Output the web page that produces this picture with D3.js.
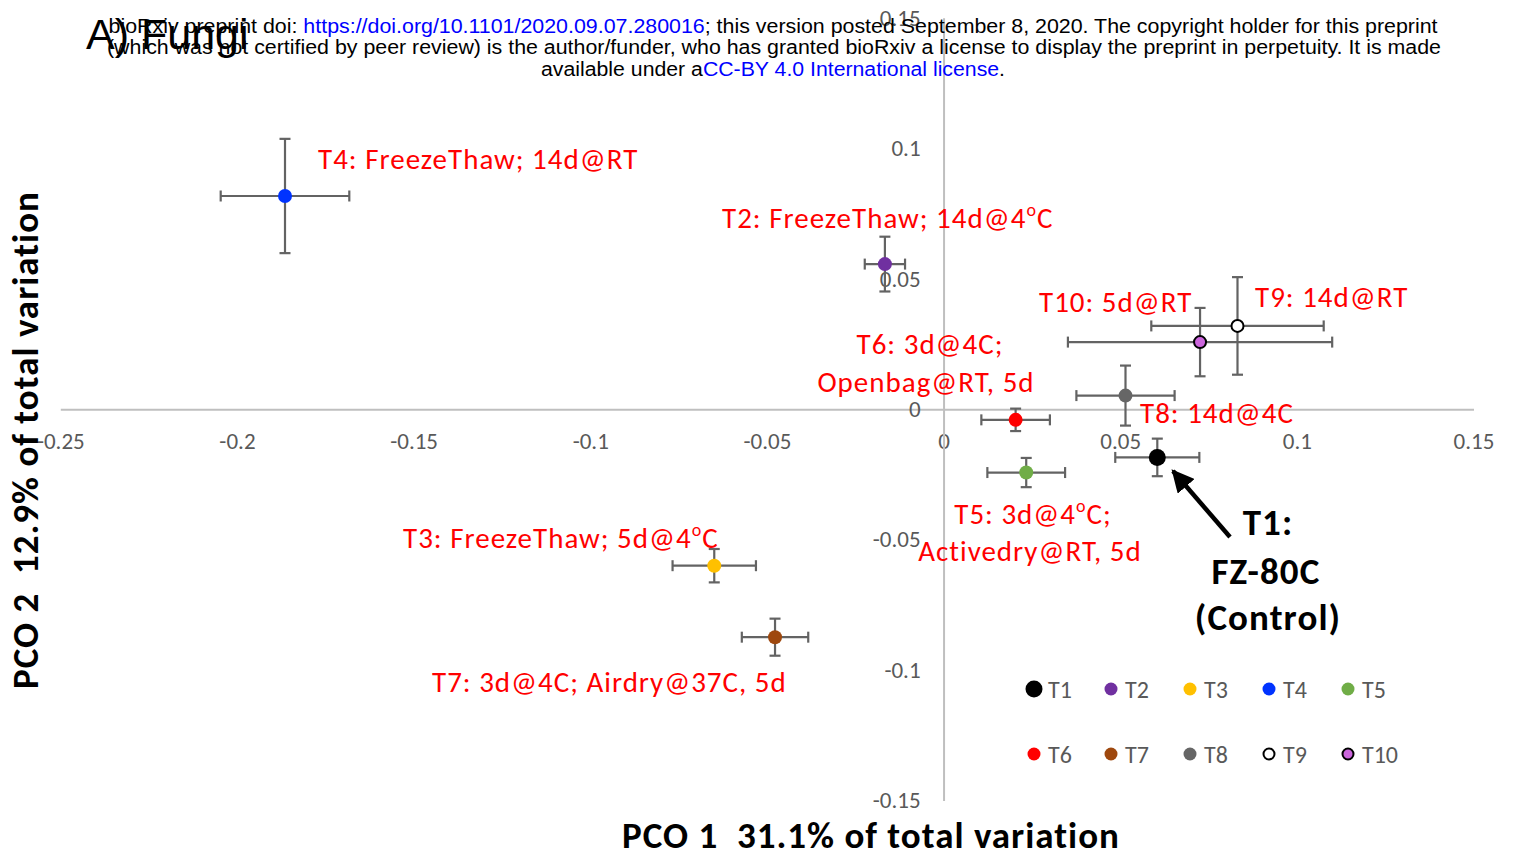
<!DOCTYPE html>
<html>
<head>
<meta charset="utf-8">
<script src="https://cdn.jsdelivr.net/npm/d3@7"></script>
<style>
  html, body { margin: 0; padding: 0; background: #fff; }
  svg { display: block; }
</style>
</head>
<body>
<svg id="chart" width="1514" height="856"></svg>
<script>
// ---- data ----
const groups = ["T1", "T2", "T3", "T4", "T5", "T6", "T7", "T8", "T9", "T10"];
const pco1 = [0.0605, -0.0166, -0.0649, -0.1864, 0.0234, 0.0204, -0.0477, 0.0515, 0.0832, 0.0726];
const pco2 = [-0.0185, 0.0556, -0.0600, 0.0817, -0.0243, -0.0041, -0.0874, 0.0052, 0.0319, 0.0257];
const pco1Err = [0.0119, 0.0057, 0.0118, 0.0182, 0.0110, 0.0097, 0.0094, 0.0139, 0.0244, 0.0374];
const pco2Err = [0.0072, 0.0105, 0.0064, 0.0219, 0.0056, 0.0043, 0.0071, 0.0115, 0.0187, 0.0131];
const fillColors = ["#000000", "#7030a0", "#ffc000", "#0033ff", "#70ad47", "#ff0000", "#9e480e", "#666666", "#ffffff", "#cc66dd"];
const xTicks = [-0.25, -0.2, -0.15, -0.1, -0.05, 0, 0.05, 0.1, 0.15];
const yTicks = [-0.15, -0.1, -0.05, 0, 0.05, 0.1, 0.15];
const tickLabel = d => String(+d.toFixed(2));

const calibri = "Carlito, Lato, 'Open Sans', sans-serif";
const arial = "'Liberation Sans', Arial, sans-serif";

const svg = d3.select("#chart");
const x = d3.scaleLinear().domain([-0.25, 0.15]).range([60.3, 1473.5]);
const y = d3.scaleLinear().domain([-0.15, 0.15]).range([800.5, 17.8]);

// ---- axes (crossing at zero) ----
const xAxis = d3.axisBottom(x).tickValues(xTicks).tickSize(0).tickFormat(tickLabel);
const gx = svg.append("g").attr("transform", `translate(0,${y(0)})`).call(xAxis);
gx.select(".domain").attr("stroke", "#bfbfbf").attr("stroke-width", 2);
gx.selectAll(".tick text").attr("fill", "#595959").attr("font-family", calibri)
  .attr("font-size", 23).attr("dy", null).attr("y", 40);

const yAxis = d3.axisLeft(y).tickValues(yTicks).tickSize(0).tickFormat(tickLabel);
const gy = svg.append("g").attr("transform", `translate(${x(0)},0)`).call(yAxis);
gy.select(".domain").attr("stroke", "#bfbfbf").attr("stroke-width", 2);
gy.selectAll(".tick text").attr("fill", "#595959").attr("font-family", calibri)
  .attr("font-size", 23).attr("x", -23).attr("dy", "0.32em");
svg.selectAll(".tick line").remove();

// ---- error bars ----
const data = groups.map((g, i) => ({g, x: pco1[i], y: pco2[i], ex: pco1Err[i], ey: pco2Err[i], c: fillColors[i]}));
const eb = svg.append("g").attr("stroke", "#636363").attr("stroke-width", 2.2).attr("fill", "none");
const cap = 5.5;
data.forEach(d => {
  const g = eb.append("g");
  g.append("line").attr("x1", x(d.x - d.ex)).attr("x2", x(d.x + d.ex)).attr("y1", y(d.y)).attr("y2", y(d.y));
  g.append("line").attr("x1", x(d.x - d.ex)).attr("x2", x(d.x - d.ex)).attr("y1", y(d.y) - cap).attr("y2", y(d.y) + cap);
  g.append("line").attr("x1", x(d.x + d.ex)).attr("x2", x(d.x + d.ex)).attr("y1", y(d.y) - cap).attr("y2", y(d.y) + cap);
  g.append("line").attr("x1", x(d.x)).attr("x2", x(d.x)).attr("y1", y(d.y - d.ey)).attr("y2", y(d.y + d.ey));
  g.append("line").attr("x1", x(d.x) - cap).attr("x2", x(d.x) + cap).attr("y1", y(d.y - d.ey)).attr("y2", y(d.y - d.ey));
  g.append("line").attr("x1", x(d.x) - cap).attr("x2", x(d.x) + cap).attr("y1", y(d.y + d.ey)).attr("y2", y(d.y + d.ey));
});

// ---- points ----
svg.append("g").selectAll("circle").data(data).join("circle")
  .attr("cx", d => x(d.x)).attr("cy", d => y(d.y))
  .attr("r", d => d.g === "T1" ? 8.5 : (d.g === "T9" || d.g === "T10" ? 6 : 7))
  .attr("fill", d => d.c)
  .attr("stroke", d => (d.g === "T9" || d.g === "T10") ? "#000" : "none")
  .attr("stroke-width", 2);

// ---- point labels ----
const lab = svg.append("g").attr("fill", "#ff0000").attr("font-family", calibri)
  .attr("font-size", 29).attr("letter-spacing", 1);
function addLabel(parts, px, py, anchor) {
  const t = lab.append("text").attr("x", px).attr("y", py).attr("text-anchor", anchor || "start");
  parts.forEach(p => {
    if (typeof p === "string") t.append("tspan").text(p);
    else {
      t.append("tspan").attr("font-size", 18).attr("dy", -12).text(p.sup);
      t.append("tspan").attr("dy", 12).text(p.after || "");
    }
  });
  return t;
}
addLabel(["T4: FreezeThaw; 14d@RT"], 318, 169);
addLabel(["T2: FreezeThaw; 14d@4", {sup: "o", after: "C"}], 722, 228);
addLabel(["T10: 5d@RT"], 1039, 312);
addLabel(["T9: 14d@RT"], 1255, 307);
addLabel(["T6: 3d@4C;"], 930, 354, "middle");
addLabel(["Openbag@RT, 5d"], 926, 392, "middle");
addLabel(["T8: 14d@4C"], 1140, 423);
addLabel(["T5: 3d@4", {sup: "o", after: "C;"}], 1033, 524, "middle");
addLabel(["Activedry@RT, 5d"], 1030, 561, "middle");
addLabel(["T3: FreezeThaw; 5d@4", {sup: "o", after: "C"}], 403, 548);
addLabel(["T7: 3d@4C; Airdry@37C, 5d"], 432, 692);

// ---- T1 annotation ----
const ctl = svg.append("g").attr("fill", "#000").attr("font-family", calibri).attr("font-weight", "bold")
  .attr("font-size", 37).attr("letter-spacing", 1.1).attr("text-anchor", "middle");
ctl.append("text").attr("x", 1268).attr("y", 535).text("T1:");
ctl.append("text").attr("x", 1266).attr("y", 584).text("FZ-80C");
ctl.append("text").attr("x", 1268).attr("y", 630).text("(Control)");
svg.append("defs").append("marker").attr("id", "ah").attr("viewBox", "0 0 10 10")
  .attr("refX", 9).attr("refY", 5).attr("markerWidth", 5).attr("markerHeight", 5)
  .attr("markerUnits", "strokeWidth").attr("orient", "auto")
  .append("path").attr("d", "M0,0 L10,5 L0,10 z").attr("fill", "#000");
svg.append("line").attr("x1", 1230).attr("y1", 537).attr("x2", 1173).attr("y2", 471)
  .attr("stroke", "#000").attr("stroke-width", 4.5).attr("marker-end", "url(#ah)");

// ---- legend ----
const leg = svg.append("g").attr("font-family", calibri).attr("font-size", 24).attr("fill", "#595959");
const legX = [1034, 1111, 1190, 1269, 1348];
const legY = [689, 754];
data.forEach((d, i) => {
  const lx = legX[i % 5], ly = legY[Math.floor(i / 5)];
  leg.append("circle").attr("cx", lx).attr("cy", ly)
    .attr("r", d.g === "T1" ? 8.5 : (d.g === "T9" || d.g === "T10" ? 5.5 : 6.5))
    .attr("fill", d.c).attr("stroke", (d.g === "T9" || d.g === "T10") ? "#000" : "none").attr("stroke-width", 2);
  leg.append("text").attr("x", lx + 14).attr("y", ly + 9).text(d.g);
});

// ---- axis titles ----
svg.append("text").attr("x", 871).attr("y", 848).attr("text-anchor", "middle")
  .attr("font-family", calibri).attr("font-weight", "bold").attr("font-size", 37)
  .attr("letter-spacing", 1).style("white-space", "pre").attr("fill", "#000")
  .text("PCO 1  31.1% of total variation");
svg.append("text").attr("transform", "translate(38,440) rotate(-90)").attr("text-anchor", "middle")
  .attr("font-family", calibri).attr("font-weight", "bold").attr("font-size", 37)
  .attr("letter-spacing", 1).style("white-space", "pre").attr("fill", "#000")
  .text("PCO 2  12.9% of total variation");

// ---- panel title ----
svg.append("text").attr("x", 86).attr("y", 49).attr("font-family", arial).attr("font-size", 43)
  .attr("fill", "#000").text("A) Fungi");

// ---- bioRxiv header ----
const hdr = svg.append("g").attr("font-family", arial).attr("font-size", 20).attr("fill", "#000").attr("text-anchor", "middle");
const h1 = hdr.append("text").attr("x", 773).attr("y", 33).attr("textLength", 1329).attr("lengthAdjust", "spacingAndGlyphs");
h1.append("tspan").text("bioRxiv preprint doi: ");
h1.append("tspan").attr("fill", "#0000ff").text("https://doi.org/10.1101/2020.09.07.280016");
h1.append("tspan").text("; this version posted September 8, 2020. The copyright holder for this preprint");
hdr.append("text").attr("x", 774).attr("y", 54).attr("textLength", 1334).attr("lengthAdjust", "spacingAndGlyphs")
  .text("(which was not certified by peer review) is the author/funder, who has granted bioRxiv a license to display the preprint in perpetuity. It is made");
const h3 = hdr.append("text").attr("x", 773).attr("y", 76).attr("textLength", 464).attr("lengthAdjust", "spacingAndGlyphs");
h3.append("tspan").text("available under a");
h3.append("tspan").attr("fill", "#0000ff").text("CC-BY 4.0 International license");
h3.append("tspan").text(".");
</script>
</body>
</html>
